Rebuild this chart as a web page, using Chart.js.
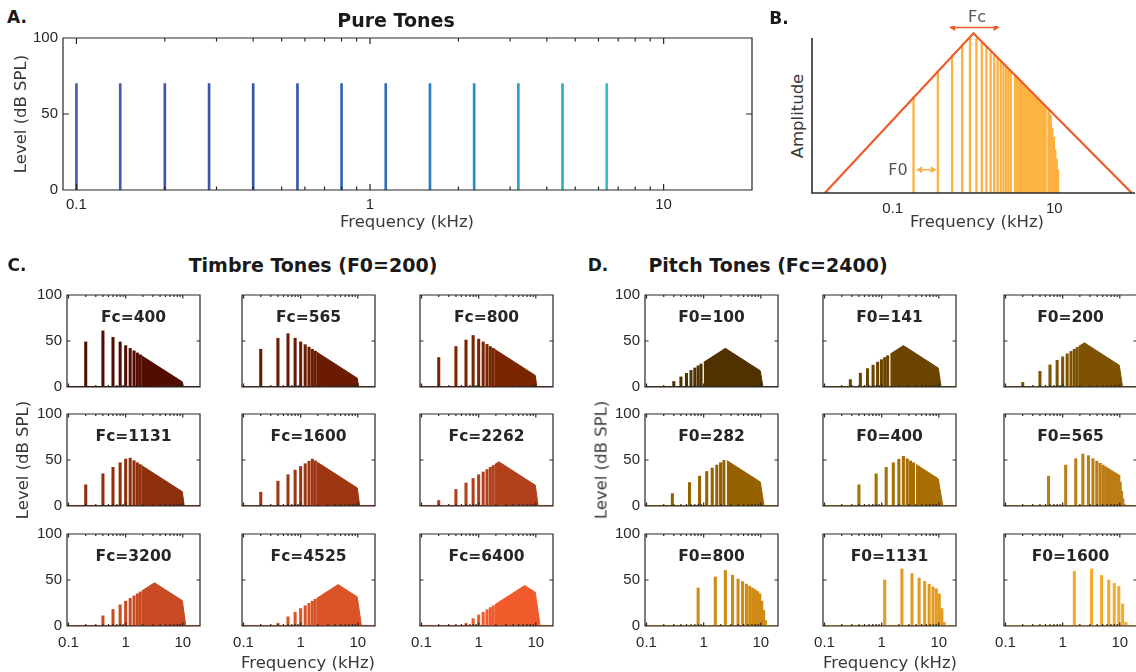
<!DOCTYPE html>
<html>
<head>
<meta charset="utf-8">
<title>Pure, timbre and pitch tones</title>
<script src="https://cdn.jsdelivr.net/npm/chart.js@4/dist/chart.umd.min.js"></script>
<style>
  body { margin: 0; background: #fff; }
  #figure { position: relative; width: 1136px; height: 672px; overflow: hidden; background: #fff;
            font-family: "DejaVu Sans", sans-serif; color: #262626; }
  #figure canvas { position: absolute; }
  .txt { position: absolute; white-space: nowrap; transform: translate(-50%, -50%); z-index: 2; }
  .letter { font-weight: bold; font-size: 17px; color: #1a1a1a; }
  .title { font-weight: bold; font-size: 19px; color: #1a1a1a; }
  .axlabel { font-size: 16.5px; color: #383838; }
  .vert { transform: translate(-50%, -50%) rotate(-90deg); }
  .sub { font-weight: bold; font-size: 15.5px; color: #262626; }
  .note { font-size: 16px; color: #555; }
</style>
</head>
<body>
<div id="figure"></div>
<script>
// ---------- A. pure tones ----------
const pureFreqs = [0.1, 0.141, 0.2, 0.283, 0.4, 0.566, 0.8, 1.131, 1.6, 2.263, 3.2, 4.525, 6.4]; // kHz
const pureLevels = [70, 70, 70, 70, 70, 70, 70, 70, 70, 70, 70, 70, 70]; // dB SPL
const pureColors = ['#4a5cb6', '#4759b2', '#4356ad', '#3f54a9', '#3a52a5', '#3759ac', '#3462b2', '#2f6eb9',
                    '#2a7dc0', '#268fc6', '#25a2ca', '#29b2c6', '#30c2bf'];

// ---------- B. schematic ----------
const envFreqs = [0.0144, 1.0, 91];
const envAmps = [0, 1.03, 0];
const bHarmFreqs = [0.185, 0.37, 0.555, 0.74, 0.925, 1.11, 1.295, 1.48, 1.665, 1.85, 2.035, 2.22, 2.405, 2.59, 2.775, 2.96];
const bHarmAmps = [0.62, 0.79, 0.89, 0.96, 1.01, 1.0, 0.97, 0.94, 0.91, 0.89, 0.87, 0.85, 0.83, 0.81, 0.80, 0.78];
const bFillFreqs = [3.145, 8.1];
const bFillAmps = [0.768, 0.553];
const bRollFreqs = [8.3, 8.7, 9.1, 9.5, 9.9, 10.3, 10.7];
const bRollAmps = [0.54, 0.50, 0.42, 0.36, 0.28, 0.22, 0.15];
const fcArrow = [0.5, 2.1];
const f0Arrow = [0.195, 0.35];

// ---------- C. timbre tones (F0 = 200 Hz) ----------
const timbreFc = [400, 565, 800, 1131, 1600, 2262, 3200, 4525, 6400];
const timbreBarFreqs = [0.2, 0.4, 0.6, 0.8, 1.0, 1.2, 1.4, 1.6, 1.8];
const timbreBarLevels = [
  [49, 61, 54, 49, 45, 42, 39.3, 37, 35],
  [41, 53, 58, 53, 49, 46, 43.3, 41, 39],
  [32, 44, 51, 56, 52, 49, 46.3, 44, 42],
  [23, 35, 42, 47, 51, 52, 49.3, 47, 45],
  [15, 27, 34, 39, 43, 46, 48.7, 51, 49],
  [6, 18, 25, 30, 34, 37, 39.7, 42, 44],
  [0, 11, 18, 23, 27, 30, 32.7, 35, 37],
  [0, 3, 10, 15, 19, 22, 24.7, 27, 29],
  [0, 0, 3, 8, 12, 15, 17.7, 20, 22]
];
// dense upper harmonics drawn as one filled outline
const timbreFillFreqs = [
  [1.9, 9.8, 10.1],
  [1.9, 9.8, 10.3],
  [1.9, 9.8, 10.4],
  [1.9, 9.8, 10.6],
  [1.9, 9.8, 10.8],
  [1.9, 2.262, 9.8, 11.0],
  [1.9, 3.2, 9.8, 11.3],
  [1.9, 4.525, 9.8, 11.6],
  [1.9, 6.4, 9.8, 11.9]
];
const timbreFillLevels = [
  [34, 5.6, 0],
  [38, 9.6, 0],
  [41, 12.6, 0],
  [44, 15.6, 0],
  [48, 19.6, 0],
  [45, 48, 22.6, 0],
  [38, 47, 27.6, 0],
  [30, 45, 31.6, 0],
  [23, 44, 36.6, 0]
];
const timbreColors = ['#520d00', '#6a1b02', '#7b2500', '#8f300c', '#9f3613', '#b2401d', '#c84b24', '#da5428', '#f15a2b'];

// ---------- D. pitch tones (Fc = 2400 Hz) ----------
const pitchF0 = [100, 141, 200, 282, 400, 565, 800, 1131, 1600];
const pitchBarFreqs = [
  [0.3, 0.4, 0.5, 0.6, 0.7, 0.8, 0.9],
  [0.283, 0.424, 0.566, 0.707, 0.849, 0.99, 1.131, 1.273],
  [0.2, 0.4, 0.6, 0.8, 1.0, 1.2, 1.4, 1.6, 1.8],
  [0.283, 0.565, 0.848, 1.13, 1.413, 1.695, 1.978, 2.26],
  [0.4, 0.8, 1.2, 1.6, 2.0, 2.4, 2.8, 3.2, 3.6],
  [0.565, 1.13, 1.695, 2.26, 2.825, 3.39, 3.955, 4.52, 5.085, 5.65, 6.215, 6.78, 7.345, 7.91, 8.475, 9.04, 9.605, 10.17, 10.735, 11.3, 11.865],
  [0.8, 1.6, 2.4, 3.2, 4.0, 4.8, 5.6, 6.4, 7.2, 8.0, 8.8, 9.6, 10.4, 11.2, 12.0],
  [1.131, 2.262, 3.393, 4.524, 5.655, 6.786, 7.917, 9.048, 10.18, 11.31, 12.44],
  [1.6, 3.2, 4.8, 6.4, 8.0, 9.6, 11.2, 12.8]
];
const pitchBarLevels = [
  [6, 11, 14.8, 18, 20.7, 23, 25],
  [8, 15, 20, 23.8, 27, 29.7, 32, 34],
  [5, 17, 24, 29, 32.8, 36, 38.7, 41, 43],
  [13.5, 25.5, 32.5, 37.5, 41.3, 44.5, 47.1, 49.5],
  [23, 35, 42, 47, 50.8, 54, 51.3, 49, 47],
  [32.5, 44.5, 51.5, 56.5, 54.7, 51.5, 48.8, 46.5, 44.5, 42.7, 41, 39.5, 38.1, 36.8, 35.7, 34.5, 33.5, 26, 16, 8, 2],
  [41.3, 53.3, 60.3, 55.3, 51, 48.3, 45.6, 43.3, 41.3, 39.5, 37.5, 35, 27, 17, 6],
  [50, 62, 57, 52, 48.5, 45.5, 42.5, 40.5, 35, 19, 4],
  [59.5, 62, 55, 50, 46.5, 43, 24, 4]
];
const pitchFillFreqs = [
  [1.0, 2.4, 9.8, 10.9],
  [1.414, 2.4, 9.8, 11.0],
  [1.9, 2.4, 9.8, 11.2],
  [2.54, 9.8, 11.4],
  [4.0, 9.8, 11.8],
  [], [], [], []
];
const pitchFillLevels = [
  [26.8, 42, 17.6, 0],
  [35.8, 45, 20.6, 0],
  [44, 48, 23.6, 0],
  [49.5, 26.1, 0],
  [45.2, 29.6, 0],
  [], [], [], []
];
const pitchColors = ['#503200', '#6a4400', '#7e5200', '#966200', '#a86e06', '#bb7d14', '#d08b15', '#e29b22', '#f6aa2d'];

// shared axis ticks
const freqTicks = [0.1, 1, 10];
const levelTicks = [0, 50, 100];

// ---------- layout (px) ----------
const colLeftC = [67, 242, 420];
const colLeftD = [645, 823, 1004];
const rowTop = [295, 414, 534];
const subW = 133, subH = 92;

const fig = document.getElementById('figure');
Chart.defaults.font.family = '"Liberation Sans", Arial, sans-serif';
Chart.defaults.font.size = 15;
Chart.defaults.color = '#262626';

function pts(xs, ys) {
  return xs.map((x, i) => ({ x: x, y: ys[i] }));
}

// axes frame with inward MATLAB-like ticks
const framePlugin = {
  id: 'frame',
  afterDatasetsDraw(chart, args, o) {
    const { ctx, chartArea: a } = chart;
    const x = chart.scales.x, y = chart.scales.y;
    ctx.save();
    ctx.strokeStyle = o.color || '#262626';
    ctx.lineWidth = o.lineWidth || 1.2;
    ctx.beginPath();
    if (o.box) {
      ctx.rect(a.left, a.top, a.right - a.left, a.bottom - a.top);
      const tick = (px, len) => {
        ctx.moveTo(px, a.bottom); ctx.lineTo(px, a.bottom - len);
        ctx.moveTo(px, a.top); ctx.lineTo(px, a.top + len);
      };
      for (const d of [0.01, 0.1, 1, 10]) {
        for (let m = 1; m < 10; m++) {
          const v = m * d;
          if (v <= x.min || v >= x.max) continue;
          tick(x.getPixelForValue(v), m === 1 ? o.major : o.minor);
        }
      }
      for (const v of levelTicks) {
        const py = y.getPixelForValue(v);
        ctx.moveTo(a.left, py); ctx.lineTo(a.left + o.major, py);
        ctx.moveTo(a.right, py); ctx.lineTo(a.right - o.major, py);
      }
    } else {
      ctx.moveTo(a.left, a.top); ctx.lineTo(a.left, a.bottom); ctx.lineTo(a.right, a.bottom);
    }
    ctx.stroke();
    ctx.restore();
  }
};

// arrows for the schematic in panel B
const arrowPlugin = {
  id: 'arrows',
  afterDatasetsDraw(chart, args, o) {
    if (!o.items) return;
    const { ctx } = chart;
    const x = chart.scales.x, y = chart.scales.y;
    for (const it of o.items) {
      const x1 = x.getPixelForValue(it.from), x2 = x.getPixelForValue(it.to);
      const py = y.getPixelForValue(it.at);
      ctx.save();
      ctx.strokeStyle = it.color; ctx.fillStyle = it.color; ctx.lineWidth = 1.6;
      ctx.beginPath(); ctx.moveTo(x1 + 3, py); ctx.lineTo(x2 - 3, py); ctx.stroke();
      ctx.beginPath();
      ctx.moveTo(x1, py); ctx.lineTo(x1 + 6, py - 3.5); ctx.lineTo(x1 + 6, py + 3.5); ctx.closePath();
      ctx.moveTo(x2, py); ctx.lineTo(x2 - 6, py - 3.5); ctx.lineTo(x2 - 6, py + 3.5); ctx.closePath();
      ctx.fill();
      ctx.restore();
    }
  }
};

function addChart(box, pad, datasets, opt) {
  const canvas = document.createElement('canvas');
  canvas.width = box.w + pad.l + pad.r;
  canvas.height = box.h + pad.t + pad.b;
  canvas.style.left = (box.x - pad.l) + 'px';
  canvas.style.top = (box.y - pad.t) + 'px';
  fig.appendChild(canvas);
  return new Chart(canvas, {
    type: 'bar',
    data: { datasets: datasets },
    options: {
      responsive: false,
      animation: false,
      devicePixelRatio: 1,
      layout: { padding: { left: 0, top: pad.t, right: pad.r, bottom: 0 } },
      plugins: {
        legend: { display: false },
        tooltip: { enabled: false },
        frame: opt.frame,
        arrows: opt.arrows || {}
      },
      scales: {
        x: {
          type: 'logarithmic', min: opt.xMin, max: opt.xMax, offset: false,
          grid: { display: false, drawTicks: false }, border: { display: false },
          afterBuildTicks: s => { s.ticks = opt.xTicks.map(v => ({ value: v })); },
          // fixed axis size, no overflow padding: the plot box lands exactly where asked
          afterFit: s => { s.height = pad.b; s.paddingLeft = 0; s.paddingRight = 0; },
          ticks: { display: opt.showX, autoSkip: false, maxRotation: 0, padding: opt.xPad || 5,
                   callback: v => String(v) }
        },
        y: {
          type: 'linear', min: opt.yMin, max: opt.yMax,
          grid: { display: false, drawTicks: false }, border: { display: false },
          afterBuildTicks: s => { s.ticks = opt.yTicks.map(v => ({ value: v })); },
          afterFit: s => { s.width = pad.l; s.paddingTop = 0; s.paddingBottom = 0; },
          ticks: { display: opt.showY, padding: 5 }
        }
      }
    },
    plugins: [framePlugin, arrowPlugin]
  });
}

function addText(text, cx, cy, cls) {
  const el = document.createElement('div');
  el.className = 'txt ' + cls;
  el.textContent = text;
  el.style.left = cx + 'px';
  el.style.top = cy + 'px';
  fig.appendChild(el);
}

// ---------- panel A ----------
addChart({ x: 63, y: 38, w: 689, h: 152 }, { l: 48, t: 10, r: 10, b: 28 }, [
  {
    data: pts(pureFreqs, pureLevels),
    backgroundColor: pureColors,
    barThickness: 2,
    borderWidth: 0
  }
], {
  xMin: 0.09, xMax: 20, xTicks: freqTicks, showX: true, xPad: 6,
  yMin: 0, yMax: 100, yTicks: levelTicks, showY: true,
  frame: { box: true, major: 6, minor: 3.5 }
});

// ---------- panel B ----------
addChart({ x: 812, y: 38, w: 323, h: 155 }, { l: 4, t: 12, r: 1, b: 28 }, [
  {
    type: 'line', data: pts(envFreqs, envAmps), borderColor: '#f15a29', borderWidth: 2.2,
    pointRadius: 0, tension: 0, clip: false, order: 0
  },
  {
    data: pts(bHarmFreqs, bHarmAmps), backgroundColor: '#fbb040', barThickness: 1.6,
    borderWidth: 0, order: 2
  },
  {
    type: 'line', data: pts(bFillFreqs, bFillAmps), borderColor: '#fbb040', borderWidth: 1,
    backgroundColor: '#fbb441', fill: 'origin', pointRadius: 0, tension: 0, order: 2
  },
  {
    data: pts(bRollFreqs, bRollAmps), backgroundColor: '#fbb040', barThickness: 2.2,
    borderWidth: 0, order: 2
  }
], {
  xMin: 0.01, xMax: 100, xTicks: [0.1, 10], showX: true, xPad: 7,
  yMin: 0, yMax: 1, yTicks: [], showY: false,
  frame: { box: false, lineWidth: 1.6, color: '#2b2b2b' },
  arrows: {
    items: [
      { from: fcArrow[0], to: fcArrow[1], at: 1.068, color: '#f15a29' },
      { from: f0Arrow[0], to: f0Arrow[1], at: 0.15, color: '#fbb040' }
    ]
  }
});

// ---------- panels C and D ----------
function addSpectrum(left, top, col, row, color, barF, barL, fillF, fillL) {
  const sets = [
    {
      type: 'line', data: [{ x: 0.094, y: 0 }, { x: 20, y: 0 }], borderColor: color,
      borderWidth: 2, pointRadius: 0, order: 3
    },
    {
      data: pts(barF, barL), backgroundColor: color, barThickness: 2.4, borderWidth: 0, order: 1
    }
  ];
  if (fillF.length) {
    sets.push({
      type: 'line', data: pts(fillF, fillL), borderColor: color, borderWidth: 1,
      backgroundColor: color, fill: 'origin', pointRadius: 0, tension: 0, order: 1
    });
  }
  addChart({ x: left, y: top, w: subW, h: subH }, { l: 44, t: 8, r: 6, b: 28 }, sets, {
    xMin: 0.094, xMax: 20, xTicks: freqTicks, showX: row === 2, xPad: 8,
    yMin: 0, yMax: 100, yTicks: levelTicks, showY: col === 0,
    frame: { box: true, major: 3.5, minor: 2 }
  });
}

for (let i = 0; i < 9; i++) {
  const col = i % 3, row = Math.floor(i / 3);
  addSpectrum(colLeftC[col], rowTop[row], col, row, timbreColors[i],
    timbreBarFreqs, timbreBarLevels[i], timbreFillFreqs[i], timbreFillLevels[i]);
  addText('Fc=' + timbreFc[i], colLeftC[col] + subW / 2, rowTop[row] + 22, 'sub');

  addSpectrum(colLeftD[col], rowTop[row], col, row, pitchColors[i],
    pitchBarFreqs[i], pitchBarLevels[i], pitchFillFreqs[i], pitchFillLevels[i]);
  addText('F0=' + pitchF0[i], colLeftD[col] + subW / 2, rowTop[row] + 22, 'sub');
}

// ---------- titles and labels ----------
addText('A.', 17, 17, 'letter');
addText('Pure Tones', 396, 20, 'title');
addText('Frequency (kHz)', 407, 221, 'axlabel');
addText('Level (dB SPL)', 20, 114, 'axlabel vert');

addText('B.', 779, 18, 'letter');
addText('Fc', 977, 16, 'note');
addText('F0', 898, 169, 'note');
addText('Frequency (kHz)', 977, 221, 'axlabel');
addText('Amplitude', 797, 116, 'axlabel vert');

addText('C.', 17, 265, 'letter');
addText('Timbre Tones (F0=200)', 313, 265, 'title');
addText('Level (dB SPL)', 22, 460, 'axlabel vert');
addText('Frequency (kHz)', 308, 662, 'axlabel');

addText('D.', 598, 265, 'letter');
addText('Pitch Tones (Fc=2400)', 768, 265, 'title');
addText('Level (dB SPL)', 601, 460, 'axlabel vert');
addText('Frequency (kHz)', 890, 662, 'axlabel');
</script>
</body>
</html>
